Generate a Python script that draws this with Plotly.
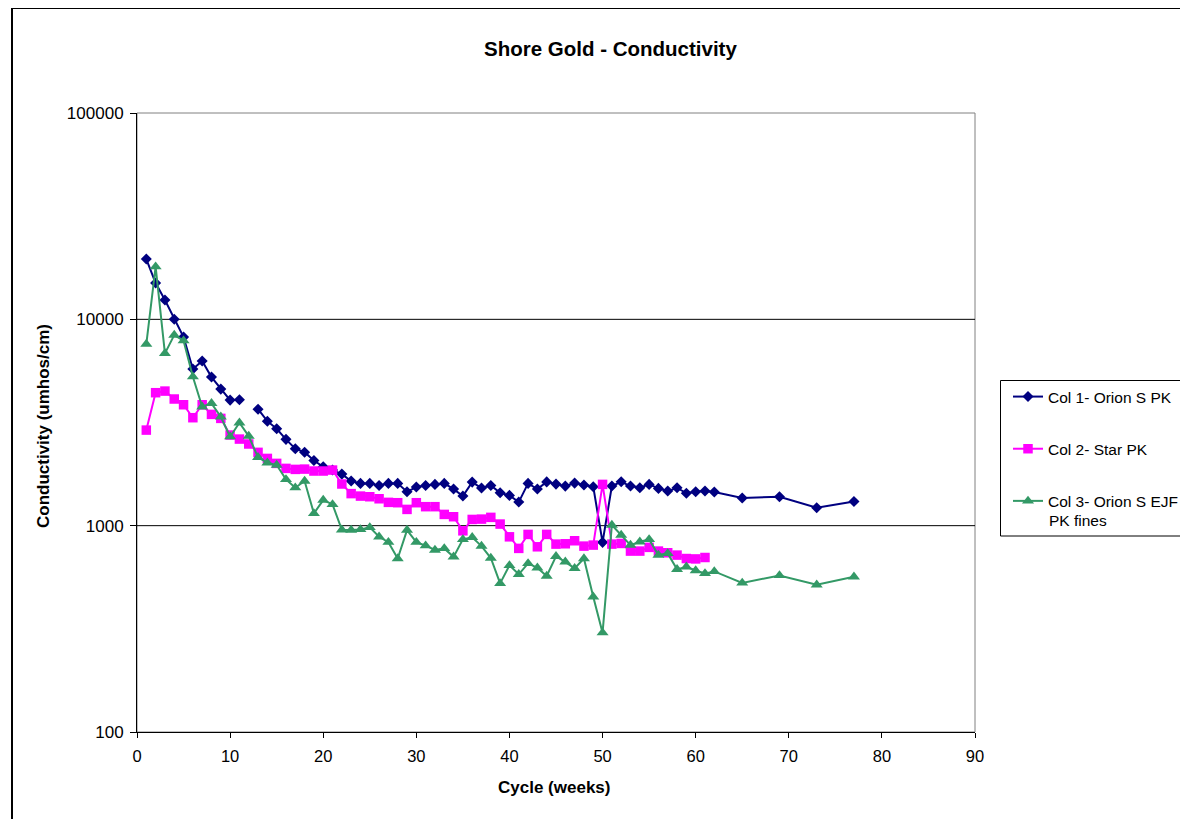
import plotly.graph_objects as go

# ---------------- data ----------------
x_col1 = list(range(1, 63)) + [65, 69, 73, 77]
y_col1 = [19600, 15000, 12400, 10000, 8200, 5740, 6280, 5250, 4590, 4060,
          4080, None, 3670, 3210, 2950, 2620, 2360, 2270, 2070, 1930,
          1860, 1778, 1645, 1603, 1603, 1567, 1603, 1603, 1460, 1538,
          1567, 1585, 1603, 1504, 1391, 1626, 1521, 1567, 1443, 1402,
          1301, 1603, 1504, 1630, 1590, 1555, 1608, 1573, 1545, 830,
          1556, 1632, 1556, 1527, 1585, 1516, 1471, 1527, 1435, 1460,
          1471, 1455, 1363, 1380, 1222, 1310]

x_col2 = list(range(1, 62))
y_col2 = [2905, 4410, 4490, 4110, 3855, 3336, 3855, 3462, 3311, 2749,
          2628, 2488, 2266, 2118, 2004, 1895, 1874, 1880, 1840, 1840,
          1860, 1592, 1430, 1391, 1381, 1350, 1297, 1292, 1199, 1292,
          1236, 1236, 1134, 1105, 944, 1072, 1076, 1097, 1018, 883,
          776, 907, 790, 907, 814, 817, 845, 796, 805, 1585,
          814, 820, 753, 753, 785, 753, 739, 720, 693, 690,
          701]

x_col3 = list(range(1, 63)) + [65, 69, 73, 77]
y_col3 = [7590, 17990, 6840, 8390, 7880, 5270, 3770, 3915, 3370, 2698,
          3153, 2718, 2143, 2017, 1967, 1676, 1527, 1645, 1147, 1330,
          1268, 955, 952, 959, 981, 883, 832, 693, 952, 832,
          800, 762, 776, 706, 858, 878, 796, 697, 525, 642,
          581, 656, 625, 570, 710, 668, 621, 693, 452, 303,
          1007, 900, 805, 835, 858, 720, 734, 614, 632, 606,
          587, 600, 528, 574, 517, 565]

names = ["Col 1- Orion S PK", "Col 2- Star PK", "Col 3- Orion S EJF"]
name3_line2 = "PK fines"

x_ticks = [0, 10, 20, 30, 40, 50, 60, 70, 80, 90]
y_ticks = [100, 1000, 10000, 100000]
y_ticktext = ["100", "1000", "10000", "100000"]

title_text = "Shore Gold - Conductivity"
x_title = "Cycle (weeks)"
y_title = "Conductivity (umhos/cm)"

# ---------------- figure ----------------
FONT = "Liberation Sans, Arial, sans-serif"
PAGE = 8                      # default body margin of the html page
W, H = 1188 - PAGE, 819 - PAGE
PL, PR, PT, PB = 137, 975, 113, 732   # plot area in page pixels
L, T = PL - PAGE, PT - PAGE
PW, PH = PR - PL, PB - PT
R, B = W - L - PW, H - T - PH


def px_x(p):
    return (p - PL) / PW


def px_y(p):
    return (PB - p) / PH


fig = go.Figure()
fig.add_trace(go.Scatter(
    x=x_col1, y=y_col1, name=names[0], mode="lines+markers",
    connectgaps=False, legendgroup="g1",
    line=dict(color="#000080", width=2),
    marker=dict(symbol="diamond", size=8.5, color="#000080")))
fig.add_trace(go.Scatter(
    x=x_col2, y=y_col2, name=names[1], mode="lines+markers",
    legendgroup="g2",
    line=dict(color="#FF00FF", width=2),
    marker=dict(symbol="square", size=9.5, color="#FF00FF")))
fig.add_trace(go.Scatter(
    x=x_col3, y=y_col3, name=names[2], mode="lines+markers",
    legendgroup="g3",
    line=dict(color="#339966", width=2),
    marker=dict(symbol="triangle-up", size=10.5, color="#339966")))

shapes = [
    # plot area border (grey)
    dict(type="rect", xref="paper", yref="paper", x0=0, x1=1, y0=0, y1=1,
         line=dict(color="#808080", width=1), layer="below"),
    # gridlines at 1000 and 10000
    dict(type="line", xref="paper", yref="paper", x0=0, x1=1, y0=1/3, y1=1/3,
         line=dict(color="black", width=1), layer="below"),
    dict(type="line", xref="paper", yref="paper", x0=0, x1=1, y0=2/3, y1=2/3,
         line=dict(color="black", width=1), layer="below"),
    # legend box
    dict(type="rect", xref="paper", yref="paper",
         x0=px_x(1000.5), x1=px_x(1250), y0=px_y(536), y1=px_y(380.5),
         line=dict(color="black", width=1), layer="below"),
    # chart outer border
    dict(type="rect", xref="paper", yref="paper",
         x0=px_x(12), x1=px_x(1300), y0=px_y(900), y1=px_y(8),
         line=dict(color="black", width=2), layer="below"),
]

annotations = [
    dict(text="<b>" + title_text + "</b>", xref="paper", yref="paper",
         x=px_x(610), y=px_y(48), xanchor="center", yanchor="middle",
         showarrow=False, font=dict(family=FONT, size=20.5, color="black")),
    dict(text="<b>" + x_title + "</b>", xref="paper", yref="paper",
         x=px_x(554), y=px_y(787), xanchor="center", yanchor="middle",
         showarrow=False, font=dict(family=FONT, size=17, color="black")),
    dict(text="<b>" + y_title + "</b>", xref="paper", yref="paper",
         x=px_x(43), y=px_y(426), xanchor="center", yanchor="middle",
         textangle=-90, showarrow=False,
         font=dict(family=FONT, size=17, color="black")),
    dict(text=name3_line2, xref="paper", yref="paper",
         x=px_x(1047), y=px_y(520), xanchor="left", yanchor="middle",
         showarrow=False, font=dict(family=FONT, size=15.5, color="black")),
]

fig.update_layout(
    width=W, height=H,
    margin=dict(l=L, r=R, t=T, b=B, pad=0, autoexpand=False),
    paper_bgcolor="white", plot_bgcolor="white",
    font=dict(family=FONT, size=16, color="black"),
    showlegend=True,
    legend=dict(x=px_x(1008), y=px_y(380), xanchor="left", yanchor="top",
                traceorder="grouped", tracegroupgap=29,
                bgcolor="rgba(0,0,0,0)", borderwidth=0,
                font=dict(family=FONT, size=15.5, color="black")),
    xaxis=dict(range=[0, 90], tickvals=x_ticks, ticks="outside", ticklen=5,
               tickcolor="black", showline=True, linecolor="black",
               linewidth=1, showgrid=False, zeroline=False,
               ticklabelstandoff=4,
               tickfont=dict(family=FONT, size=16.5, color="black")),
    yaxis=dict(type="log", range=[2, 5], tickvals=y_ticks,
               ticktext=y_ticktext, ticks="outside", ticklen=6,
               tickcolor="black", showline=True, linecolor="black",
               linewidth=1, showgrid=False, zeroline=False,
               ticklabelstandoff=3,
               tickfont=dict(family=FONT, size=17, color="black")),
    shapes=shapes,
    annotations=annotations,
)

fig.write_html("out.html")
